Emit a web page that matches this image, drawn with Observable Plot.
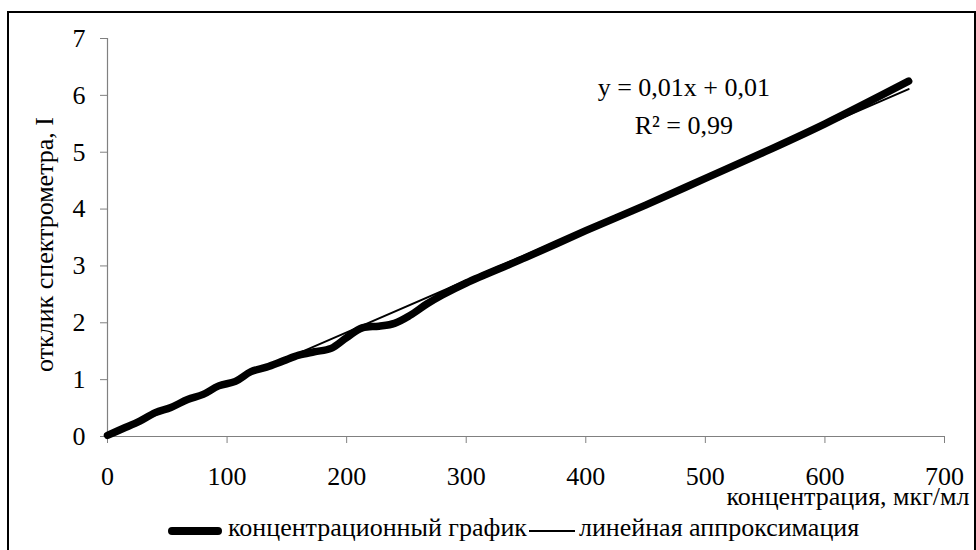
<!DOCTYPE html>
<html>
<head>
<meta charset="utf-8">
<script src="https://cdn.jsdelivr.net/npm/d3@7"></script>
<script src="https://cdn.jsdelivr.net/npm/@observablehq/plot@0.6"></script>
<style>
  html, body { margin: 0; padding: 0; background: #fff; overflow: hidden; }
  #wrap { position: relative; width: 976px; height: 550px; font-family: "Liberation Serif", serif; }
  #frame { position: absolute; left: 7px; top: 11px; width: 969px; height: 600px; border: 2px solid #000; box-sizing: border-box; pointer-events: none; }
  #chart { position: absolute; left: 0; top: 0; }
  #legend { position: absolute; left: 168px; top: 515px; display: flex; align-items: center; height: 26px; font-family: "Liberation Serif", serif; font-size: 26px; line-height: 26px; color: #000; white-space: nowrap; }
  #legend svg { display: block; position: relative; top: 3px; }
</style>
</head>
<body>
<div id="wrap">
  <div id="chart"></div>
  <div id="frame"></div>
  <div id="legend"></div>
</div>
<script>
// concentration, mcg/ml
const conc = [0, 13, 27, 40, 53, 67, 80, 93, 107, 120, 133, 147, 160, 173, 187, 200, 213, 227, 240, 253, 267, 280, 300, 350, 400, 450, 500, 550, 600, 670];
// spectrometer response, I
const resp = [0.02, 0.14, 0.27, 0.42, 0.51, 0.65, 0.74, 0.89, 0.97, 1.14, 1.22, 1.33, 1.43, 1.49, 1.55, 1.74, 1.91, 1.94, 1.99, 2.13, 2.33, 2.49, 2.70, 3.15, 3.62, 4.07, 4.54, 5.01, 5.50, 6.25];
// linear approximation endpoints
const trendX = [0, 670];
const trendY = [0.01, 6.11];
const xTicks = [0, 100, 200, 300, 400, 500, 600, 700];
const yTicks = [0, 1, 2, 3, 4, 5, 6, 7];
const seriesNames = ["концентрационный график", "линейная аппроксимация"];
const xLabel = "концентрация, мкг/мл";
const yLabel = "отклик спектрометра, I";
const equation = "y = 0,01x + 0,01\nR² = 0,99";

const data = conc.map((x, i) => ({x, y: resp[i]}));
const trend = trendX.map((x, i) => ({x, y: trendY[i]}));

const chart = Plot.plot({
  width: 976,
  height: 550,
  marginLeft: 107,
  marginRight: 32,
  marginTop: 38,
  marginBottom: 114,
  x: {domain: [0, 700]},
  y: {domain: [0, 7]},
  style: {fontFamily: "Liberation Serif", fontSize: "26px", background: "transparent", color: "#000"},
  marks: [
    Plot.ruleY([0], {stroke: "#808080", strokeWidth: 1.2}),
    Plot.ruleX([0], {stroke: "#808080", strokeWidth: 1.2}),
    Plot.axisX({ticks: xTicks, tickSize: 7, tickPadding: 23, stroke: "#808080", fill: "#000", fontSize: 26, tickFormat: d => String(d), label: null}),
    Plot.axisY({ticks: yTicks, tickSize: 7, tickPadding: 15, stroke: "#808080", fill: "#000", fontSize: 26, tickFormat: d => String(d), label: null}),
    Plot.line(data, {x: "x", y: "y", curve: "catmull-rom", stroke: "#000", strokeWidth: 7.5, strokeLinecap: "round", strokeLinejoin: "round"}),
    Plot.line(trend, {x: "x", y: "y", stroke: "#000", strokeWidth: 2}),
    Plot.text([equation], {x: 482, y: 5.86, text: d => d, fontSize: 26, textAnchor: "middle", lineHeight: 1.46, fill: "#000"}),
    Plot.text([xLabel], {frameAnchor: "bottom-right", text: d => d, dx: 25, dy: 68, textAnchor: "end", fontSize: 26, fill: "#000"}),
    Plot.text([yLabel], {frameAnchor: "left", text: d => d, rotate: -90, dx: -63, dy: 7, textAnchor: "middle", fontSize: 26, fill: "#000"})
  ]
});
document.getElementById("chart").appendChild(chart);

// legend
const leg = document.getElementById("legend");
const NS = "http://www.w3.org/2000/svg";
function swatch(w, sw, cap, ml, mr) {
  const s = document.createElementNS(NS, "svg");
  s.setAttribute("width", w);
  s.setAttribute("height", 12);
  s.style.marginLeft = ml + "px";
  s.style.marginRight = mr + "px";
  const l = document.createElementNS(NS, "line");
  const pad = cap === "round" ? sw / 2 : 0;
  l.setAttribute("x1", pad); l.setAttribute("x2", w - pad);
  l.setAttribute("y1", 6); l.setAttribute("y2", 6);
  l.setAttribute("stroke", "#000"); l.setAttribute("stroke-width", sw);
  l.setAttribute("stroke-linecap", cap);
  s.appendChild(l);
  return s;
}
function label(t) {
  const d = document.createElement("span");
  d.textContent = t;
  return d;
}
leg.appendChild(swatch(54, 8, "round", 0, 6));
leg.appendChild(label(seriesNames[0]));
leg.appendChild(swatch(46, 2, "butt", 2, 4));
leg.appendChild(label(seriesNames[1]));
</script>
</body>
</html>
